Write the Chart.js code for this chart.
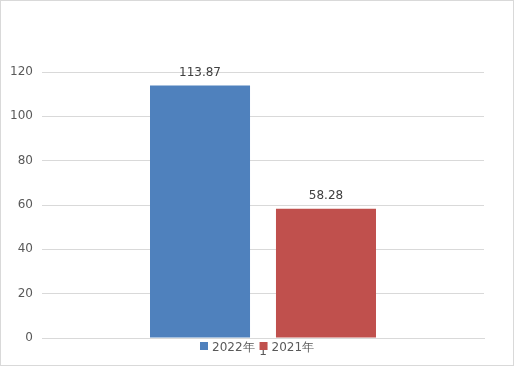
<!DOCTYPE html>
<html>
<head>
<meta charset="utf-8">
<script src="https://cdn.jsdelivr.net/npm/chart.js@4"></script>
<style>
html,body{margin:0;padding:0;background:#fff;}
#wrap{position:relative;width:514px;height:366px;}
#frame{position:absolute;left:0;top:0;width:512px;height:364px;border:1px solid #d9d9d9;pointer-events:none;}
</style>
</head>
<body>
<div id="wrap">
<canvas id="c" width="514" height="366"></canvas>
<div id="frame"></div>
</div>
<script>
const categories = ['1'];
const seriesNames = ['2022年', '2021年'];
const values2022 = [113.87];
const values2021 = [58.28];
const yTicks = [0, 20, 40, 60, 80, 100, 120];
const colors = ['#4f81bd', '#c0504d'];

const FONT = 'DejaVu Sans';
const TXT = '#595959';

const valueLabels = {
  id: 'valueLabels',
  afterDatasetsDraw(chart) {
    const ctx = chart.ctx;
    ctx.save();
    ctx.font = '12px "' + FONT + '"';
    ctx.fillStyle = '#404040';
    ctx.textAlign = 'center';
    ctx.textBaseline = 'alphabetic';
    chart.data.datasets.forEach((ds, i) => {
      chart.getDatasetMeta(i).data.forEach((bar, j) => {
        ctx.fillText(ds.data[j].toFixed(2), bar.x, bar.y - 10);
      });
    });
    ctx.restore();
  }
};

const bottomLegend = {
  id: 'bottomLegend',
  afterDraw(chart) {
    const ctx = chart.ctx;
    ctx.save();
    ctx.font = '12px "' + FONT + '"';
    const box = 8, gap = 4, itemGap = 5;
    let total = 0;
    const widths = chart.data.datasets.map(ds => ctx.measureText(ds.label).width);
    widths.forEach((w, i) => { total += box + gap + w + (i ? itemGap : 0); });
    let x = 200;
    const baseY = 351;
    ctx.fillStyle = '#fff';
    ctx.fillRect(x - 2, 339, total + 4, 10);
    chart.data.datasets.forEach((ds, i) => {
      ctx.fillStyle = ds.backgroundColor;
      ctx.fillRect(x, 342, box, box);
      x += box + gap;
      ctx.fillStyle = TXT;
      ctx.textBaseline = 'alphabetic';
      ctx.fillText(ds.label, x, baseY);
      x += widths[i] + itemGap;
    });
    ctx.restore();
  }
};

new Chart(document.getElementById('c'), {
  type: 'bar',
  data: {
    labels: categories,
    datasets: [
      { label: seriesNames[0], data: values2022, backgroundColor: colors[0] },
      { label: seriesNames[1], data: values2021, backgroundColor: colors[1] }
    ]
  },
  options: {
    responsive: false,
    animation: false,
    events: [],
    layout: { padding: { top: 72, right: 30, left: 0, bottom: 0 } },
    datasets: { bar: { categoryPercentage: 0.57, barPercentage: 0.794 } },
    plugins: { legend: { display: false }, tooltip: { enabled: false } },
    scales: {
      x: {
        grid: { display: false, drawTicks: false },
        border: { display: true, color: '#d9d9d9' },
        ticks: { color: TXT, font: { family: FONT, size: 12 }, padding: 7 },
        afterFit(s) { s.height = 28; }
      },
      y: {
        min: 0, max: 120,
        afterBuildTicks(s) { s.ticks = yTicks.map(v => ({ value: v })); },
        grid: { color: '#d9d9d9', drawTicks: false },
        border: { display: false },
        ticks: { color: TXT, font: { family: FONT, size: 12 }, padding: 9 },
        afterFit(s) { s.width = 42; }
      }
    }
  },
  plugins: [valueLabels, bottomLegend]
});
</script>
</body>
</html>
